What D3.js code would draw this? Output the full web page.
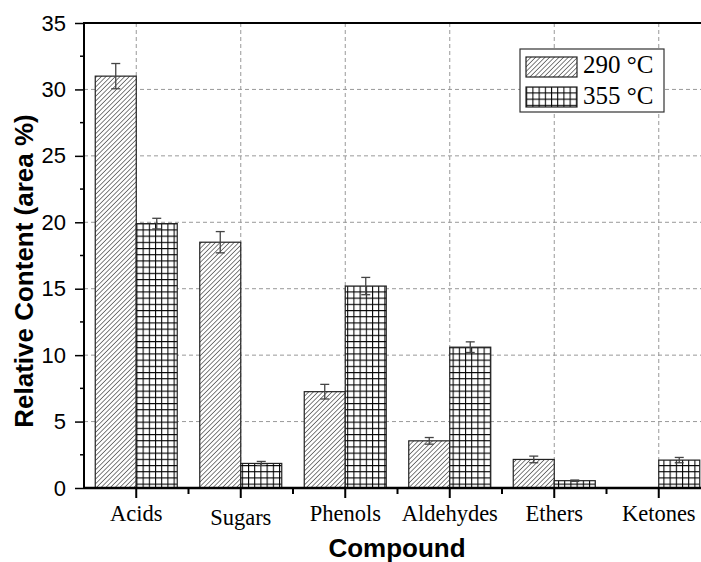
<!DOCTYPE html>
<meta charset="utf-8">
<script src="https://cdn.jsdelivr.net/npm/d3@7"></script>
<style>
body { margin: 0; background: #fff; }
</style>
<body>
<script>
var categories = ["Acids", "Sugars", "Phenols", "Aldehydes", "Ethers", "Ketones"];
var seriesNames = ["290 \u00B0C", "355 \u00B0C"];
var values290 = [31.0, 18.5, 7.25, 3.55, 2.15, null];
var errors290 = [0.95, 0.8, 0.55, 0.25, 0.25, null];
var values355 = [19.9, 1.85, 15.2, 10.6, 0.55, 2.1];
var errors355 = [0.4, 0.15, 0.65, 0.4, 0.05, 0.2];
var yTicks = [0, 5, 10, 15, 20, 25, 30, 35];

var w = 701, h = 562;
var pLeft = 84, pTop = 23, pBottom = 488, pRight = 711;

var svg = d3.select("body").append("svg")
	.attr("width", w)
	.attr("height", h);

var defs = svg.append("defs");
var hatch = defs.append("pattern")
	.attr("id", "hatch")
	.attr("patternUnits", "userSpaceOnUse")
	.attr("width", 3.3).attr("height", 3.3)
	.attr("patternTransform", "rotate(45)");
hatch.append("rect").attr("width", 3.3).attr("height", 3.3).attr("fill", "#fff");
hatch.append("line")
	.attr("x1", 0).attr("y1", 0).attr("x2", 0).attr("y2", 3.3)
	.attr("stroke", "#000").attr("stroke-width", 1);

var grid = defs.append("pattern")
	.attr("id", "grid")
	.attr("patternUnits", "userSpaceOnUse")
	.attr("width", 6.2).attr("height", 6.2);
grid.append("rect").attr("width", 6.2).attr("height", 6.2).attr("fill", "#fff");
grid.append("path")
	.attr("d", "M0.5,0V6.2M0,0.5H6.2")
	.attr("stroke", "#000").attr("stroke-width", 1.1).attr("fill", "none");

var x = d3.scaleBand().domain(categories).range([pLeft, pRight]).padding(0);
var y = d3.scaleLinear().domain([0, 35]).range([pBottom, pTop]);
var barW = 41;

// gridlines
svg.append("g").selectAll("line")
	.data(yTicks.slice(1, -1))
	.enter().append("line")
	.attr("x1", pLeft).attr("x2", pRight)
	.attr("y1", function(d) { return y(d); })
	.attr("y2", function(d) { return y(d); })
	.attr("stroke", "#999").attr("stroke-dasharray", "4,3");
svg.append("g").selectAll("line")
	.data(categories)
	.enter().append("line")
	.attr("x1", function(d) { return x(d) + x.bandwidth() / 2; })
	.attr("x2", function(d) { return x(d) + x.bandwidth() / 2; })
	.attr("y1", pTop).attr("y2", pBottom)
	.attr("stroke", "#999").attr("stroke-dasharray", "4,3");

// bars
var data = [];
categories.forEach(function(c, i) {
	data.push({cat: c, s: 0, v: values290[i], e: errors290[i]});
	data.push({cat: c, s: 1, v: values355[i], e: errors355[i]});
});
data = data.filter(function(d) { return d.v != null; });

function bx(d) { return x(d.cat) + x.bandwidth() / 2 + (d.s == 0 ? -barW : 0); }

svg.append("g").selectAll("rect")
	.data(data)
	.enter().append("rect")
	.attr("x", function(d) { return bx(d); })
	.attr("y", function(d) { return y(d.v); })
	.attr("width", barW)
	.attr("height", function(d) { return pBottom - y(d.v); })
	.attr("fill", function(d) { return d.s == 0 ? "url(#hatch)" : "url(#grid)"; })
	.attr("stroke", "#222").attr("stroke-width", 1.2);

// error bars
var eb = svg.append("g").attr("stroke", "#444").attr("stroke-width", 1.3);
data.forEach(function(d) {
	var cx = bx(d) + barW / 2;
	eb.append("line").attr("x1", cx).attr("x2", cx)
		.attr("y1", y(d.v + d.e)).attr("y2", y(d.v - d.e));
	eb.append("line").attr("x1", cx - 4.5).attr("x2", cx + 4.5)
		.attr("y1", y(d.v + d.e)).attr("y2", y(d.v + d.e));
	eb.append("line").attr("x1", cx - 4.5).attr("x2", cx + 4.5)
		.attr("y1", y(d.v - d.e)).attr("y2", y(d.v - d.e));
});

// axes
var yAxis = svg.append("g")
	.attr("transform", "translate(" + pLeft + ",0)")
	.call(d3.axisLeft(y).tickValues(yTicks).tickSize(9).tickPadding(9));
yAxis.select(".domain").remove();
yAxis.selectAll("line").attr("stroke", "#000").attr("stroke-width", 1.5);
yAxis.selectAll("text")
	.style("font-family", "Arial, 'Liberation Sans', sans-serif")
	.style("font-size", "22px").attr("fill", "#000");

svg.append("g").selectAll("line")
	.data(d3.range(2.5, 35, 5))
	.enter().append("line")
	.attr("x1", pLeft - 4).attr("x2", pLeft)
	.attr("y1", function(d) { return y(d); })
	.attr("y2", function(d) { return y(d); })
	.attr("stroke", "#000").attr("stroke-width", 1.5);

var xAxis = svg.append("g")
	.attr("transform", "translate(0," + pBottom + ")")
	.call(d3.axisBottom(x).tickSize(10).tickPadding(7));
xAxis.select(".domain").remove();
xAxis.selectAll("line").attr("stroke", "#000").attr("stroke-width", 2);
xAxis.selectAll("text")
	.style("font-family", "'Times New Roman', 'Liberation Serif', serif")
	.style("font-size", "22.5px").attr("fill", "#000");
xAxis.selectAll(".tick").filter(function(d) { return d == "Sugars"; })
	.select("text").attr("dy", "0.9em");

svg.append("g").selectAll("line")
	.data(categories)
	.enter().append("line")
	.attr("x1", function(d) { return x(d) + x.bandwidth(); })
	.attr("x2", function(d) { return x(d) + x.bandwidth(); })
	.attr("y1", pBottom).attr("y2", pBottom + 6)
	.attr("stroke", "#000").attr("stroke-width", 2);

svg.append("line").attr("x1", pLeft).attr("x2", pRight)
	.attr("y1", pBottom).attr("y2", pBottom)
	.attr("stroke", "#000").attr("stroke-width", 2.5);
svg.append("line").attr("x1", pLeft).attr("x2", pRight)
	.attr("y1", pTop).attr("y2", pTop)
	.attr("stroke", "#000").attr("stroke-width", 2);
svg.append("line").attr("x1", pLeft).attr("x2", pLeft)
	.attr("y1", pTop - 1).attr("y2", pBottom + 1)
	.attr("stroke", "#000").attr("stroke-width", 2);

// axis titles
svg.append("text")
	.attr("transform", "translate(33,271) rotate(-90)")
	.attr("text-anchor", "middle")
	.style("font-family", "Arial, 'Liberation Sans', sans-serif")
	.style("font-size", "26px").style("font-weight", "bold")
	.text("Relative Content (area %)");
svg.append("text")
	.attr("x", 397).attr("y", 557)
	.attr("text-anchor", "middle")
	.style("font-family", "Arial, 'Liberation Sans', sans-serif")
	.style("font-size", "26px").style("font-weight", "bold")
	.text("Compound");

// legend
var lg = svg.append("g").attr("transform", "translate(520,49)");
lg.append("rect").attr("width", 144).attr("height", 63)
	.attr("fill", "#fff").attr("stroke", "#333").attr("stroke-width", 1.2);
seriesNames.forEach(function(s, i) {
	lg.append("rect")
		.attr("x", 6).attr("y", 8 + i * 30)
		.attr("width", 51).attr("height", 20)
		.attr("fill", i == 0 ? "url(#hatch)" : "url(#grid)")
		.attr("stroke", "#222").attr("stroke-width", 1.2);
	lg.append("text")
		.attr("x", 63).attr("y", 24 + i * 31)
		.style("font-family", "'Times New Roman', 'Liberation Serif', serif")
		.style("font-size", "25px").attr("fill", "#000")
		.text(s);
});
</script>
</body>
</html>
